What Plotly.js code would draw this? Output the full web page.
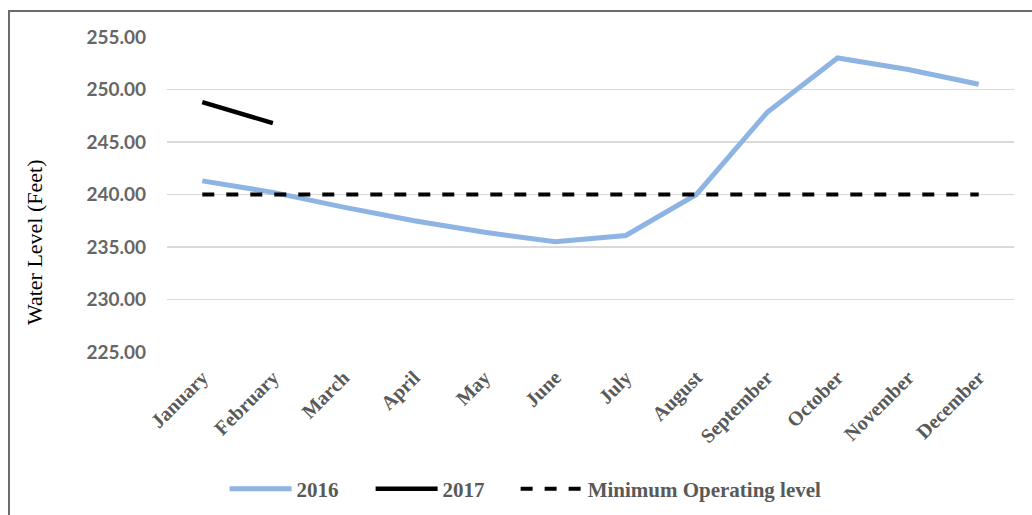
<!DOCTYPE html>
<html>
<head>
<meta charset="utf-8">
<script src="https://cdn.plot.ly/plotly-3.0.1.min.js"></script>
<style>
  html, body { margin: 0; padding: 0; background: #fff; }
  #wrap { position: relative; width: 1032px; height: 515px; }
  #chart { width: 1032px; height: 515px; }
  #frame { position: absolute; left: 8px; top: 10px; right: 0; bottom: 0;
           border-top: 2px solid #6b6b6b; border-left: 2px solid #6b6b6b;
           pointer-events: none; }
</style>
</head>
<body>
<div id="wrap">
  <div id="chart"></div>
  <div id="frame"></div>
</div>
<script>
const months = ["January","February","March","April","May","June","July","August","September","October","November","December"];
const level2016 = [241.3, 240.2, 238.8, 237.5, 236.4, 235.5, 236.1, 240.0, 247.8, 253.0, 251.9, 250.5];
const months2017 = ["January","February"];
const level2017 = [248.8, 246.8];
const minOperating = [240, 240, 240, 240, 240, 240, 240, 240, 240, 240, 240, 240];
const yTicks = [225, 230, 235, 240, 245, 250, 255];

const traces = [
  { x: months, y: level2016, name: "2016", type: "scatter", mode: "lines", legend: "legend",
    line: { color: "#8db4e3", width: 5 } },
  { x: months2017, y: level2017, name: "2017", type: "scatter", mode: "lines", legend: "legend2",
    line: { color: "#000000", width: 4.5 } },
  { x: months, y: minOperating, name: "Minimum Operating level", type: "scatter", mode: "lines", legend: "legend3",
    line: { color: "#000000", width: 4, dash: "dash" } }
];

const legendFont = { family: "Liberation Serif, serif", size: 21, color: "#595959", weight: "bold" };
function leg(x) {
  return { orientation: "h", x: x, xanchor: "left", y: -0.435, yanchor: "middle",
           font: legendFont, itemwidth: 62, bgcolor: "rgba(0,0,0,0)" };
}

const layout = {
  width: 1032, height: 515,
  margin: { l: 167, r: 18, t: 37, b: 163, autoexpand: false },
  paper_bgcolor: "#fff", plot_bgcolor: "#fff",
  showlegend: true,
  legend: leg(0.068),
  legend2: leg(0.2404),
  legend3: leg(0.4116),
  xaxis: {
    type: "category", tickangle: -45, showgrid: false, zeroline: false,
    showline: false, ticks: "", ticklabelstandoff: 9, automargin: false,
    tickfont: { family: "Liberation Serif, serif", size: 20, color: "#595959", weight: "bold" },
    range: [-0.5, 11.5]
  },
  yaxis: {
    range: [225, 255], tickvals: yTicks, automargin: false,
    ticktext: yTicks.map(v => v.toFixed(2)),
    showgrid: true, gridcolor: "#d9d9d9", gridwidth: 1.5,
    zeroline: false, showline: false, ticks: "",
    ticklabelstandoff: 20,
    tickfont: { family: "Lato, Open Sans, sans-serif", size: 19, color: "#666666", weight: "bold" }
  },
  annotations: [{
    text: "Water Level (Feet)", xref: "paper", yref: "paper",
    x: -0.157, y: 0.349, xanchor: "center", yanchor: "middle", textangle: -90,
    showarrow: false,
    font: { family: "Liberation Serif, serif", size: 22, color: "#000" }
  }]
};

Plotly.newPlot("chart", traces, layout, { displayModeBar: false, staticPlot: true });
</script>
</body>
</html>
